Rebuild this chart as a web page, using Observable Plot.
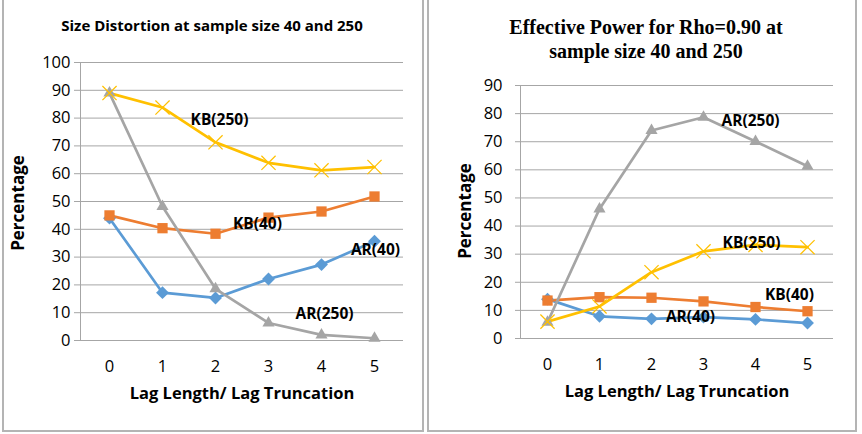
<!DOCTYPE html>
<html>
<head>
<meta charset="utf-8">
<script src="https://cdn.jsdelivr.net/npm/d3@7"></script>
<script src="https://cdn.jsdelivr.net/npm/@observablehq/plot@0.6"></script>
<style>
  html, body { margin: 0; padding: 0; background: #fff; }
  #wrap { position: relative; width: 862px; height: 434px; overflow: hidden; }
  .panel { position: absolute; border: 2px solid #b4b4b4; border-top: none; box-sizing: border-box; }
  .chart { position: absolute; top: 0; }
  .title { position: absolute; text-align: center; color: #000; font-weight: bold; white-space: nowrap; z-index: 2; }
  .ylab { position: absolute; width: 120px; height: 20px; line-height: 20px; text-align: center;
          font-family: 'Open Sans', sans-serif; font-weight: bold; font-size: 17px; color: #000;
          transform: rotate(-90deg); z-index: 2; }
</style>
</head>
<body>
<div id="wrap">
  <div class="panel" style="left:2px; top:-2px; width:422px; height:434px;"></div>
  <div class="panel" style="left:427px; top:-2px; width:430px; height:434px;"></div>
  <div id="left" class="chart" style="left:0px;"></div>
  <div id="right" class="chart" style="left:430px;"></div>
  <div class="title" style="left:2px; width:420px; top:15px; font-family:'Open Sans', sans-serif; font-size:15px;">Size Distortion at sample size 40 and 250</div>
  <div class="title" style="left:430px; width:432px; top:15px; font-family:'Liberation Serif', serif; font-size:20px; line-height:24px;">Effective Power for Rho=0.90 at<br>sample size 40 and 250</div>
  <div class="ylab" style="left:-42px; top:193px;">Percentage</div>
  <div class="ylab" style="left:405px; top:201px;">Percentage</div>
</div>
<script>
// Lag lengths on the horizontal axis
const lags = [0, 1, 2, 3, 4, 5];

// Size distortion (%)
const sizeAR40  = [44, 17.2, 15.3, 22.1, 27.3, 35.7];
const sizeKB40  = [45, 40.4, 38.4, 44.2, 46.4, 51.8];
const sizeKB250 = [89, 83.8, 71.3, 63.9, 61.2, 62.4];
const sizeAR250 = [89, 48.2, 18.6, 6.3, 2.0, 0.8];

// Effective power for rho = 0.90 (%)
const powAR40  = [14, 7.9, 7.0, 7.6, 6.8, 5.5];
const powKB40  = [13.5, 14.7, 14.5, 13.2, 11.2, 9.7];
const powKB250 = [6, 11.4, 23.6, 31.0, 33.3, 32.5];
const powAR250 = [5.8, 46.1, 74.0, 78.7, 70.1, 61.3];

// Series names and their label anchors (lag, value, horizontal nudge)
const sizeLabels = [
  {name: "KB(250)", lag: 2, value: 79.2, dx: 4},
  {name: "KB(40)",  lag: 3, value: 42.0, dx: -11},
  {name: "AR(40)",  lag: 5, value: 32.7, dx: 1},
  {name: "AR(250)", lag: 4, value: 9.7,  dx: 3}
];
const powLabels = [
  {name: "AR(250)", lag: 4, value: 77.5, dx: -5},
  {name: "KB(250)", lag: 4, value: 33.8, dx: -4},
  {name: "KB(40)",  lag: 5, value: 15.3, dx: -18},
  {name: "AR(40)",  lag: 3, value: 7.5,  dx: -13}
];

const colors = {"AR(40)": "#5b9bd5", "KB(40)": "#ed7d31", "AR(250)": "#a5a5a5", "KB(250)": "#ffc000"};
const symbols = {"AR(40)": "diamond2", "KB(40)": "square", "AR(250)": "triangle2", "KB(250)": "times"};

function rows(name, values) {
  return lags.map((lag, i) => ({series: name, lag, value: values[i]}));
}

function chart({series, labels, width, height, margins, yMax, tickPad, tickLen}) {
  const data = series.flatMap(([name, vals]) => rows(name, vals));
  const filled = data.filter(d => symbols[d.series] !== "times");
  const crosses = data.filter(d => symbols[d.series] === "times");
  return Plot.plot({
    width, height,
    ...margins,
    style: {fontFamily: "'Open Sans', sans-serif", fontSize: "16px", color: "#000", background: "transparent", overflow: "visible"},
    x: {type: "point", domain: lags, padding: 0.5, label: null},
    y: {domain: [0, yMax], label: null},
    marks: [
      Plot.gridY(d3.range(0, yMax + 1, 10), {stroke: "#a6a6a6", strokeOpacity: 1, strokeWidth: 1}),
      Plot.axisY(d3.range(0, yMax + 1, 10), {tickSize: tickLen, tickPadding: tickPad, stroke: "#a6a6a6", fontSize: 16.5, label: null}),
      Plot.axisX(lags, {tickSize: 0, tickPadding: 20, fontSize: 16.5, label: null}),
      Plot.frame({anchor: "left", stroke: "#a6a6a6", strokeWidth: 1}),
      Plot.ruleY([0], {stroke: "#a6a6a6", strokeWidth: 1}),
      Plot.line(data, {x: "lag", y: "value", z: "series", stroke: d => colors[d.series], strokeWidth: 2.7, curve: "linear"}),
      Plot.dot(filled, {x: "lag", y: "value", symbol: d => symbols[d.series], fill: d => colors[d.series], r: 5.8, stroke: "none"}),
      Plot.dot(crosses, {x: "lag", y: "value", symbol: "times", stroke: d => colors[d.series], r: 6.5, strokeWidth: 1.2}),
      // one text mark per series label so each can carry its own nudge
      ...labels.map(l => Plot.text([l], {x: "lag", y: "value", text: "name", dx: l.dx, fontWeight: "bold", fontSize: 15.5, fill: "#000"})),
      Plot.text(["Lag Length/ Lag Truncation"], {frameAnchor: "bottom", dy: 58, fontWeight: "bold", fontSize: 16.5})
    ]
  });
}

const left = chart({
  series: [["AR(40)", sizeAR40], ["KB(40)", sizeKB40], ["AR(250)", sizeAR250], ["KB(250)", sizeKB250]],
  labels: sizeLabels,
  width: 430, height: 434,
  margins: {marginLeft: 80, marginRight: 27, marginTop: 62, marginBottom: 94},
  yMax: 100, tickPad: 4, tickLen: 6
});
document.getElementById("left").appendChild(left);

const right = chart({
  series: [["AR(40)", powAR40], ["KB(40)", powKB40], ["AR(250)", powAR250], ["KB(250)", powKB250]],
  labels: powLabels,
  width: 432, height: 434,
  margins: {marginLeft: 90, marginRight: 29, marginTop: 85, marginBottom: 96},
  yMax: 90, tickPad: 13, tickLen: 5
});
document.getElementById("right").appendChild(right);
</script>
</body>
</html>
